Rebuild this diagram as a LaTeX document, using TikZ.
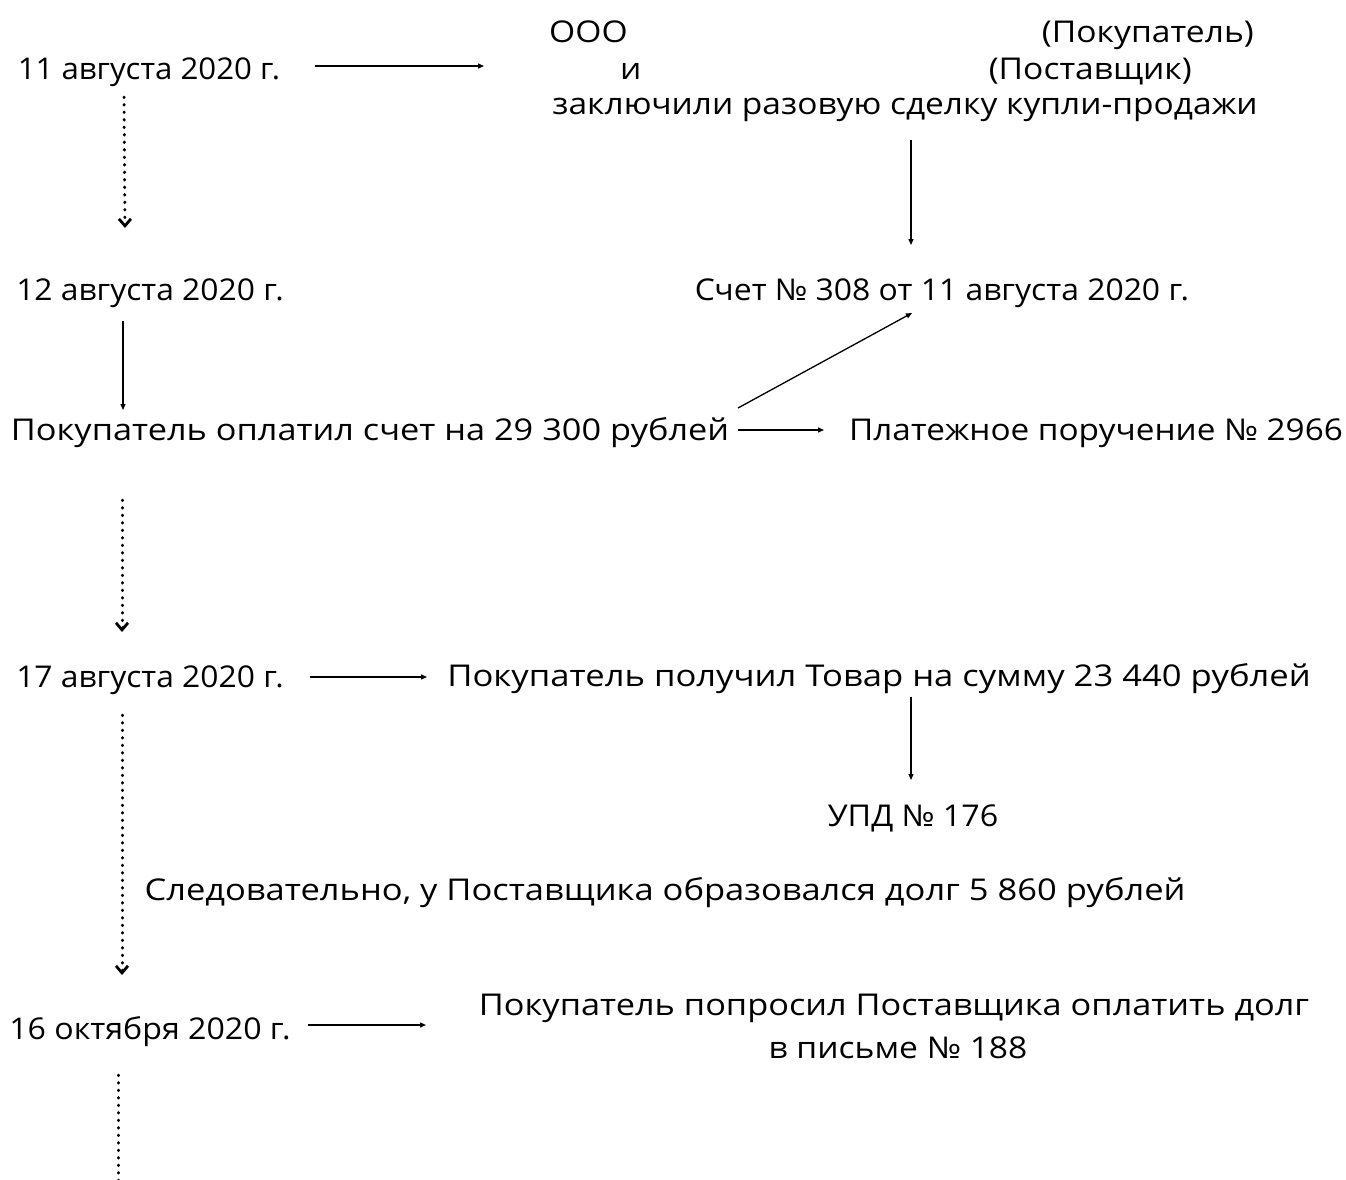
\documentclass[tikz,border=0pt]{standalone}
\usepackage{fontspec}
\setmainfont{Open Sans}
\usetikzlibrary{arrows.meta}
\begin{document}
\begin{tikzpicture}[x=1pt,y=-1pt,
  txt/.style={inner sep=0pt, anchor=base, font=\fontsize{30}{36}\selectfont\addfontfeature{FakeStretch=#1}},
  txt/.default=1.1,
  arr/.style={line width=1.3pt, -{Triangle[length=6pt,width=5pt]}},
  dotarr/.style={line width=3pt, line cap=round, dash pattern=on 0.6pt off 6.9pt,
    -{Straight Barb[length=7pt,width=12pt,line width=2.8pt]}},
  dotline/.style={line width=3pt, line cap=round, dash pattern=on 0.6pt off 6.9pt}]
\useasboundingbox (0,0) rectangle (1346,1179);
% nodes
\node[txt=1.04] (d1) at (149,79) {11 августа 2020 г.};
\node[txt=1.12,anchor=base west] (p1a) at (549,42) {ООО};
\node[txt=1.12,anchor=base east] (p1b) at (1254,42) {(Покупатель)};
\node[txt=1.12,anchor=base west] (p2a) at (620,79) {и};
\node[txt=1.12,anchor=base east] (p2b) at (1192,79) {(Поставщик)};
\node[txt=1.117] (deal) at (905,114) {заключили разовую сделку купли-продажи};
\node[txt=1.063] (inv) at (942,300) {Счет №~308 от 11 августа 2020 г.};
\node[txt=1.06] (d2) at (150,300) {12 августа 2020 г.};
\node[txt=1.144] (paid) at (370,440) {Покупатель оплатил счет на 29 300 рублей};
\node[txt=1.11] (pp) at (1096,440) {Платежное поручение №~2966};
\node[txt=1.06] (d3) at (150,687) {17 августа 2020 г.};
\node[txt=1.154] (recv) at (879,686) {Покупатель получил Товар на сумму 23 440 рублей};
\node[txt=1.076] (upd) at (913,826) {УПД №~176};
\node[txt=1.15] (conseq) at (665,900) {Следовательно, у Поставщика образовался долг 5 860 рублей};
\node[txt=1.07] (d4) at (150,1039) {16 октября 2020 г.};
\node[txt=1.144] (let1) at (894,1015) {Покупатель попросил Поставщика оплатить долг};
\node[txt=1.12] (let2) at (898,1058) {в письме №~188};
\coordinate (bottom) at (118,1180);
% connectors
\draw[arr] ([xshift=166pt,yshift=13pt]d1.base) -- ([xshift=-136pt,yshift=13pt]p2a.base west);
\draw[arr] ([xshift=6pt,yshift=-26pt]deal.base) -- ([xshift=-31pt,yshift=55pt]inv.base);
\draw[dotarr] ([xshift=-25pt,yshift=-18pt]d1.base) -- ([xshift=-25pt,yshift=72pt]d2.base);
\draw[arr] ([xshift=-27pt,yshift=-21pt]d2.base) -- ([xshift=-247pt,yshift=30pt]paid.base);
\draw[arr] ([xshift=368pt,yshift=32pt]paid.base) -- ([xshift=-30pt,yshift=-13pt]inv.base);
\draw[arr] ([xshift=368pt,yshift=10pt]paid.base) -- ([xshift=-272pt,yshift=10pt]pp.base);
\draw[dotarr] ([xshift=-248pt,yshift=-60pt]paid.base) -- ([xshift=-28pt,yshift=55pt]d3.base);
\draw[arr] ([xshift=160pt,yshift=10pt]d3.base) -- ([xshift=-452pt,yshift=9pt]recv.base);
\draw[arr] ([xshift=32pt,yshift=-11pt]recv.base) -- ([xshift=-2pt,yshift=46pt]upd.base);
\draw[dotarr] ([xshift=-28pt,yshift=-28pt]d3.base) -- ([xshift=-28pt,yshift=64pt]d4.base);
\draw[arr] ([xshift=158pt,yshift=14pt]d4.base) -- ([xshift=-468pt,yshift=-10pt]let1.base);
\draw[dotline] ([xshift=-32pt,yshift=-36pt]d4.base) -- (bottom);
\end{tikzpicture}
\end{document}
